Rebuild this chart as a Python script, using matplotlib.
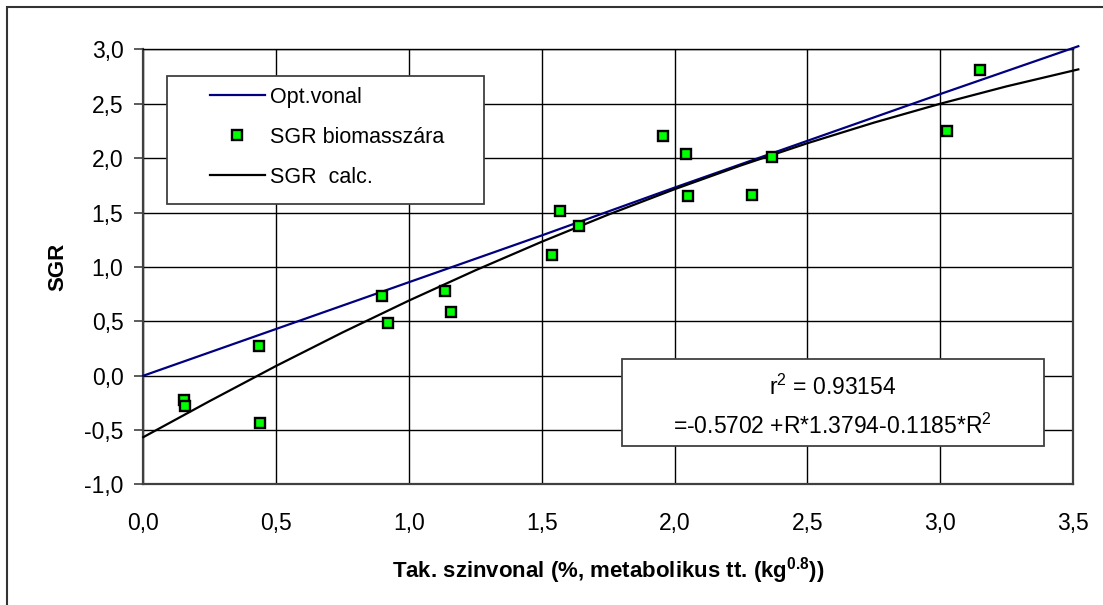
import matplotlib
matplotlib.use("Agg")
import matplotlib.pyplot as plt
from matplotlib.patches import Rectangle
from matplotlib.lines import Line2D

plt.rcParams['font.family'] = ['Liberation Sans', 'DejaVu Sans']
plt.rcParams['mathtext.fontset'] = 'custom'
plt.rcParams['mathtext.rm'] = 'Liberation Sans'
plt.rcParams['mathtext.it'] = 'Liberation Sans:italic'
plt.rcParams['mathtext.bf'] = 'Liberation Sans:bold'

# measured points (SGR biomasszara)
meas_x = [0.153, 0.157, 0.437, 0.440, 0.898, 0.920, 1.135, 1.157, 1.537,
          1.568, 1.640, 1.957, 2.042, 2.051, 2.292, 2.366, 3.024, 3.149]
meas_y = [-0.220, -0.275, 0.274, -0.436, 0.735, 0.488, 0.779, 0.583, 1.110,
          1.514, 1.378, 2.208, 2.035, 1.653, 1.661, 2.012, 2.253, 2.811]

# optimal line
opt_x = [0.0, 0.5, 1.0, 1.5, 2.0, 2.5, 3.0, 3.52]
opt_y = [0.0, 0.43, 0.86, 1.29, 1.73, 2.16, 2.59, 3.03]

# fitted curve (SGR calc.)
calc_x = [0.0, 0.25, 0.5, 0.75, 1.0, 1.25, 1.5, 1.75, 2.0, 2.25, 2.5, 2.75, 3.0, 3.25, 3.52]
calc_y = [-0.565, -0.233, 0.090, 0.398, 0.691, 0.969, 1.232, 1.481, 1.715,
          1.934, 2.138, 2.327, 2.501, 2.661, 2.817]

x_ticks = [0.0, 0.5, 1.0, 1.5, 2.0, 2.5, 3.0, 3.5]
x_labels = ["0,0", "0,5", "1,0", "1,5", "2,0", "2,5", "3,0", "3,5"]
y_ticks = [-1.0, -0.5, 0.0, 0.5, 1.0, 1.5, 2.0, 2.5, 3.0]
y_labels = ["-1,0", "-0,5", "0,0", "0,5", "1,0", "1,5", "2,0", "2,5", "3,0"]

fig = plt.figure(figsize=(11.03, 6.05), dpi=100)
ax = fig.add_axes([0.1299, 0.1992, 0.8429, 0.7190])

ax.set_xlim(0, 3.5)
ax.set_ylim(-1, 3)
ax.set_xticks(x_ticks)
ax.set_xticklabels(x_labels)
ax.set_yticks(y_ticks)
ax.set_yticklabels(y_labels)
ax.tick_params(axis='x', length=0, pad=20, labelsize=16.5)
ax.tick_params(axis='y', length=6.3, width=1.2, color='#404040', pad=8, labelsize=16.5)
ax.grid(True, color='black', linewidth=1.0)
ax.set_axisbelow(True)
for side in ['left', 'bottom', 'right']:
    ax.spines[side].set_color('#404040')
    ax.spines[side].set_linewidth(1.6)
ax.spines['top'].set_color('black')
ax.spines['top'].set_linewidth(1.0)

ax.plot(opt_x, opt_y, color='#000080', linewidth=1.6, clip_on=False, zorder=3)
ax.plot(calc_x, calc_y, color='black', linewidth=1.6, clip_on=False, zorder=3)
ax.plot(meas_x, meas_y, linestyle='none', marker='s', markersize=7.5,
        markerfacecolor='#00ff00', markeredgecolor='black', markeredgewidth=1.7, zorder=4)

ax.set_xlabel("Tak. szinvonal (%, metabolikus tt. (kg$^{\\mathbf{0.8}}$))",
              fontsize=16, fontweight='bold', labelpad=14)
ax.set_ylabel("SGR", fontsize=16, fontweight='bold', labelpad=11)

# legend box
ax.add_patch(Rectangle((0.0258, 0.6448), 0.3407, 0.2945, transform=ax.transAxes,
                       facecolor='white', edgecolor='#404040', linewidth=1.3, zorder=5))
handles = [
    Line2D([], [], color='#000080', linewidth=1.6),
    Line2D([], [], linestyle='none', marker='s', markersize=7.5,
           markerfacecolor='#00ff00', markeredgecolor='black', markeredgewidth=1.7),
    Line2D([], [], color='black', linewidth=1.6),
]
labels = ["Opt.vonal", "SGR biomasszára", "SGR  calc."]
leg = ax.legend(handles, labels, loc='upper left', bbox_to_anchor=(0.0717, 0.914),
                frameon=False, fontsize=15.5, handlelength=2.55, handletextpad=0.23,
                labelspacing=0.88, borderpad=0, borderaxespad=0)
leg.set_zorder(6)

# regression box
ax.add_patch(Rectangle((0.5146, 0.0885), 0.4544, 0.2, transform=ax.transAxes,
                       facecolor='white', edgecolor='#404040', linewidth=1.3, zorder=5))
ax.text(0.7418, 0.2057, "r$^{2}$ = 0.93154", transform=ax.transAxes,
        ha='center', va='baseline', fontsize=16.5, zorder=6)
ax.text(0.7418, 0.116, "=-0.5702 +R*1.3794-0.1185*R$^{2}$", transform=ax.transAxes,
        ha='center', va='baseline', fontsize=16.5, zorder=6)

# outer chart frame
fig.patches.append(Rectangle((7 / 1103, -0.01), 1.0, 1 - 7 / 605 + 0.01,
                             transform=fig.transFigure, fill=False,
                             edgecolor='#333333', linewidth=1.5))

fig.savefig("out.png", dpi=100)
